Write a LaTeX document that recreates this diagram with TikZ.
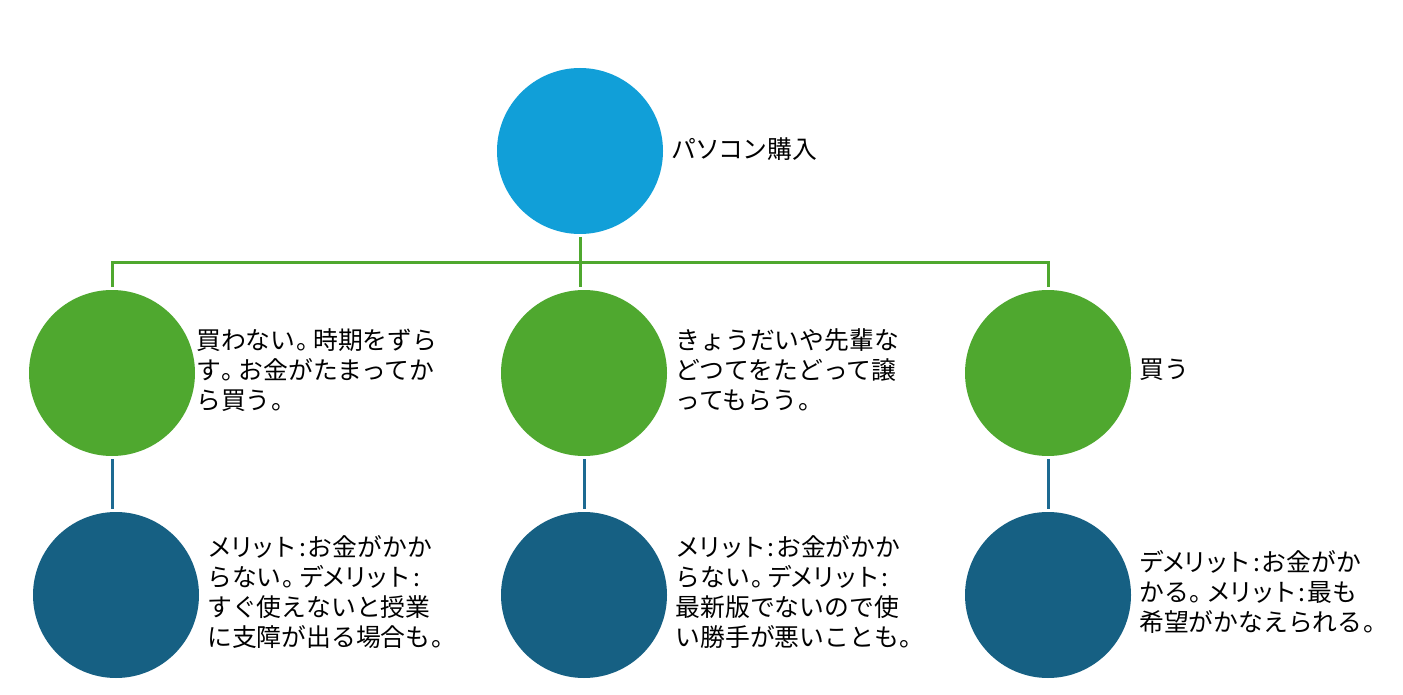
\documentclass[tikz,border=0pt]{standalone}
\usepackage{fontspec}
\setmainfont{Noto Sans CJK JP}
\newfontfamily\katanarrow[LetterSpace=-12]{Noto Sans CJK JP}
\newfontfamily\katamid[LetterSpace=-4]{Noto Sans CJK JP}
\newcommand{\maru}{\kern1pt。\kern-8pt}
\newcommand{\cln}{\kern2pt:\kern1.5pt}
\newcommand{\mrt}{{\katanarrow\fontsize{24.8pt}{30pt}\selectfont メリット}}
\newcommand{\dmrt}{{\katanarrow\fontsize{24.8pt}{30pt}\selectfont デメリット}}
\definecolor{rootblue}{HTML}{119FD8}
\definecolor{leafgreen}{HTML}{4FA82F}
\definecolor{deepblue}{HTML}{166083}
\definecolor{linkblue}{HTML}{1D6A92}
\tikzset{
  disc/.style={circle,minimum size=166pt,inner sep=0pt,outer sep=3pt},
  rootdisc/.style={disc,fill=rootblue},
  greendisc/.style={disc,fill=leafgreen},
  bluedisc/.style={disc,fill=deepblue},
  note/.style={anchor=west,inner sep=0pt,align=left,text=black,font=\fontsize{24.8pt}{30pt}\selectfont},
  greenlink/.style={draw=leafgreen,line width=3pt},
  bluelink/.style={draw=linkblue,line width=3pt}
}
\begin{document}
\begin{tikzpicture}[x=1pt,y=-1pt]
\useasboundingbox (0,0) rectangle (1403,695);
\node[rootdisc] (root) at (580,151) {};
\node[greendisc] (g1) at (112,373) {};
\node[greendisc] (g2) at (584,373) {};
\node[greendisc] (g3) at (1048,373) {};
\node[bluedisc] (b1) at (116,595) {};
\node[bluedisc] (b2) at (584,595) {};
\node[bluedisc] (b3) at (1048,595) {};
\coordinate (bus) at (580,262);
\draw[greenlink] (root.south) -- (root.south |- g2.north);
\draw[greenlink] (g1.north) |- (bus) -| (g3.north);
\draw[bluelink] (g1.south) -- (g1.south |- b1.north);
\draw[bluelink] (g2.south) -- (b2.north);
\draw[bluelink] (g3.south) -- (b3.north);
\node[note] (troot) at (671,149) {{\katamid\fontsize{24.8pt}{30pt}\selectfont パソコン}購入};
\node[note] (tg1) at (196,370) {買わない\maru 時期をずら\\す\maru お金がたまってか\\ら買う\maru};
\node[note] (tg2) at (675.5,370) {きょうだいや先輩な\\どつてをたどって譲\\ってもらう\maru};
\node[note] (tg3) at (1139,370) {買う};
\node[note] (tb1) at (207,592) {\mrt\cln お金がかか\\らない\maru\dmrt\cln\\すぐ使えないと授業\\に支障が出る場合も\maru};
\node[note] (tb2) at (675.5,592) {\mrt\cln お金がかか\\らない\maru\dmrt\cln\\最新版でないので使\\い勝手が悪いことも\maru};
\node[note] (tb3) at (1139,592) {\dmrt\cln お金がか\\かる\maru\mrt\cln 最も\\希望がかなえられる\maru};
\end{tikzpicture}
\end{document}
